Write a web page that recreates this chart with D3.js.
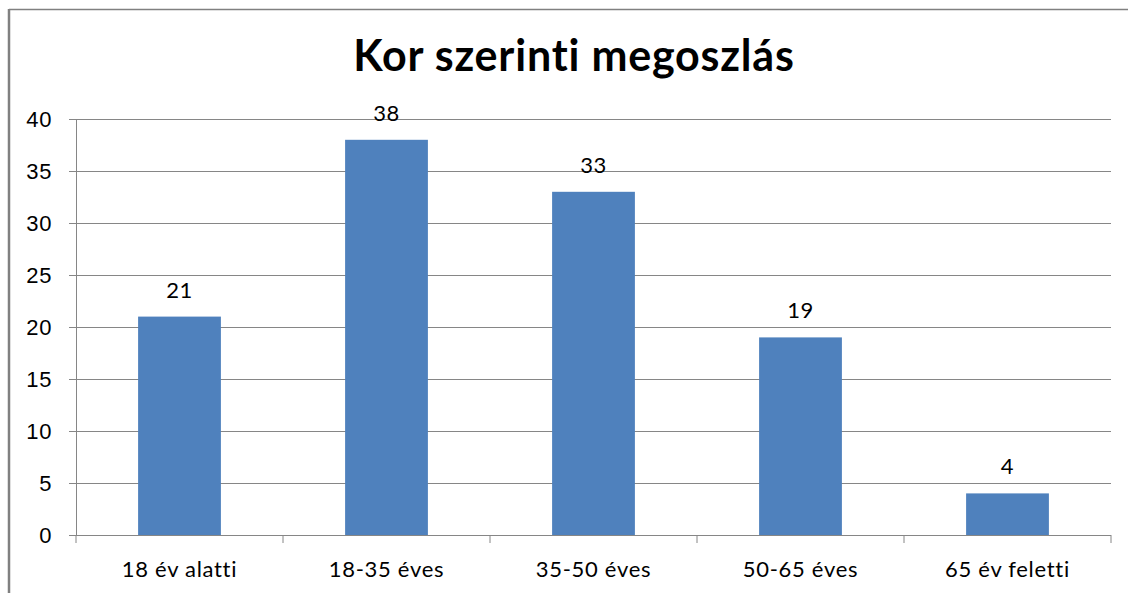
<!DOCTYPE html>
<html>
<head>
<meta charset="utf-8">
<script src="https://cdn.jsdelivr.net/npm/d3@7"></script>
<style>
  body { margin: 0; background: #fff; }
  svg { display: block; font-family: Lato, "Open Sans", sans-serif; }
</style>
</head>
<body>
<svg id="chart" width="1128" height="593"></svg>
<script>
const categories = ["18 év alatti", "18-35 éves", "35-50 éves", "50-65 éves", "65 év feletti"];
const values = [21, 38, 33, 19, 4];
const yTicks = [0, 5, 10, 15, 20, 25, 30, 35, 40];
const title = "Kor szerinti megoszlás";

const svg = d3.select("#chart");
const margin = { left: 76, right: 17, top: 119, bottom: 58 };
const width = +svg.attr("width");
const height = +svg.attr("height");

// outer frame (only left and top edges visible in the crop)
svg.append("line")
  .attr("x1", 9).attr("x2", 9).attr("y1", 9).attr("y2", height)
  .attr("stroke", "#808080").attr("stroke-width", 2.5);
svg.append("line")
  .attr("x1", 9).attr("x2", width).attr("y1", 9.5).attr("y2", 9.5)
  .attr("stroke", "#808080").attr("stroke-width", 1.5);

const x = d3.scaleBand()
  .domain(categories)
  .range([margin.left, width - margin.right])
  .paddingInner(0.6)
  .paddingOuter(0.3);

const y = d3.scaleLinear()
  .domain([0, 40])
  .range([height - margin.bottom, margin.top]);

// y axis
const yAxis = svg.append("g")
  .attr("transform", `translate(${margin.left},0)`)
  .call(d3.axisLeft(y).tickValues(yTicks).tickSize(7).tickPadding(10));
yAxis.select(".domain").attr("stroke", "#868686");
yAxis.selectAll(".tick line").attr("stroke", "#868686");
yAxis.selectAll(".tick text")
  .attr("font-size", 22).attr("fill", "#000").attr("dx", -7)
  .attr("letter-spacing", 0.6);

// gridlines
svg.append("g")
  .selectAll("line")
  .data(yTicks.filter((d) => d > 0))
  .join("line")
  .attr("x1", margin.left).attr("x2", width - margin.right)
  .attr("y1", (d) => y(d) + 0.5).attr("y2", (d) => y(d) + 0.5)
  .attr("stroke", "#868686").attr("stroke-width", 1.2);

// x axis with ticks at band edges
const edges = d3.range(categories.length + 1).map((i) => margin.left + i * (width - margin.left - margin.right) / categories.length);
const xg = svg.append("g");
xg.append("line")
  .attr("x1", margin.left - 7).attr("x2", width - margin.right)
  .attr("y1", y(0) + 0.5).attr("y2", y(0) + 0.5)
  .attr("stroke", "#868686").attr("stroke-width", 1.2);
xg.selectAll(".xt")
  .data(edges)
  .join("line")
  .attr("class", "xt")
  .attr("x1", (d) => d).attr("x2", (d) => d)
  .attr("y1", y(0)).attr("y2", y(0) + 8)
  .attr("stroke", "#868686");
xg.selectAll("text")
  .data(categories)
  .join("text")
  .attr("x", (d) => x(d) + x.bandwidth() / 2)
  .attr("y", y(0) + 42)
  .attr("text-anchor", "middle")
  .attr("font-size", 22)
  .attr("letter-spacing", 0.7)
  .text((d) => d);

// bars
svg.append("g")
  .selectAll("rect")
  .data(values)
  .join("rect")
  .attr("x", (d, i) => x(categories[i]))
  .attr("y", (d) => y(d))
  .attr("width", x.bandwidth())
  .attr("height", (d) => y(0) - y(d))
  .attr("fill", "#4F81BD");

// value labels
svg.append("g")
  .selectAll("text")
  .data(values)
  .join("text")
  .attr("x", (d, i) => x(categories[i]) + x.bandwidth() / 2)
  .attr("y", (d) => y(d) - 19)
  .attr("text-anchor", "middle")
  .attr("font-size", 22)
  .attr("letter-spacing", 0.6)
  .text((d) => d);

// title
svg.append("text")
  .attr("x", 574)
  .attr("y", 71)
  .attr("text-anchor", "middle")
  .attr("font-size", 43)
  .attr("font-weight", "bold")
  .attr("letter-spacing", 0.8)
  .text(title);
</script>
</body>
</html>
